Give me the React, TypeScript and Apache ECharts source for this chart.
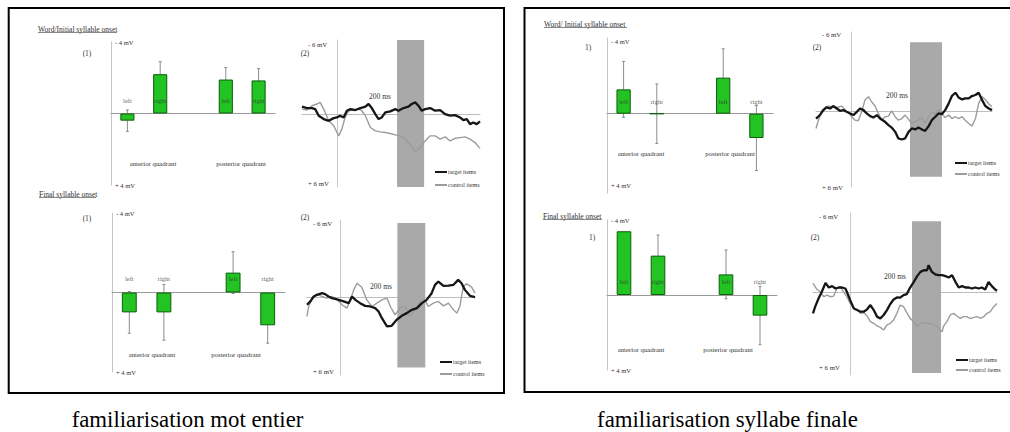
import React, { useEffect, useRef } from "react";
import * as echarts from "echarts";

const FONT = "Liberation Serif";

// ---------------- data ----------------
const BAR_CATEGORIES = ["anterior left", "anterior right", "", "posterior left", "posterior right"];
const BAR_SIDES = ["left", "right", "", "left", "right"];
const QUADRANTS = ["anterior quadrant", "posterior quadrant"];
const BAR_TICK_VALUES = [-4, 4];
const BAR_TICK_LABELS = ["- 4 mV", "+ 4 mV"];
const WAVE_TICK_VALUES = [-6, 6];
const WAVE_TICK_LABELS = ["- 6 mV", "+ 6 mV"];
const LEGEND_NAMES = ["target items", "control items"];
const WINDOW_LABEL = "200 ms";
const PANEL_TITLES = ["Word/Initial syllable onset", "Final syllable onset", "Word/ Initial syllable onset", "Final syllable onset"];
const CAPTIONS = ["familiarisation mot entier", "familiarisation syllabe finale"];
const BAR_LABEL_LEVEL = -0.7;

// mean amplitude (mV, negative up) and error, per category slot
const MOT_INITIAL_MEANS = [0.4, -2.2, null, -1.9, -1.85];
const MOT_INITIAL_ERRORS = [0.6, 0.7, null, 0.67, 0.67];
const MOT_FINAL_MEANS = [1.0, 1.0, null, -1.0, 1.65];
const MOT_FINAL_ERRORS = [1.05, 1.4, null, 1.05, 0.9];
const SYL_INITIAL_MEANS = [-1.35, 0, null, -2.0, 1.35];
const SYL_INITIAL_ERRORS = [1.55, 1.65, null, 1.6, 1.8];
const SYL_FINAL_MEANS = [-3.4, -2.1, null, -1.1, 1.1];
const SYL_FINAL_ERRORS = [0, 1.1, null, 1.3, 1.55];

// waveforms: [ms, mV]
const MOT_INITIAL_TARGET = [[-100,-0.64],[-86,-0.52],[-72,-0.52],[-63,-0.43],[-53,0.14],[-39,0.43],[-25,0.58],[-11,0.35],[-2,0.29],[7,0.14],[17,0.29],[26,-0.29],[36,-0.43],[50,-0.35],[64,-0.52],[78,-0.64],[87,-0.87],[96,-0.52],[106,0],[115,0.43],[124,0.29],[134,-0.14],[148,-0.23],[162,-0.43],[171,-0.29],[185,-0.52],[199,-0.64],[208,-0.87],[218,-1.01],[227,-0.72],[236,-0.29],[246,-0.43],[260,-0.52],[274,-0.29],[288,-0.35],[302,0],[316,0.14],[330,0.09],[344,0.29],[353,0.52],[363,0.43],[372,0.87],[381,0.72],[391,0.87],[400,0.64]];
const MOT_INITIAL_CONTROL = [[-100,-0.43],[-86,-0.35],[-72,-0.72],[-58,-0.87],[-49,-1.01],[-39,-0.43],[-25,0.58],[-11,1.01],[3,1.88],[12,1.3],[21,0.29],[31,-0.29],[45,-0.35],[59,-0.43],[68,-0.29],[78,0.14],[92,1.16],[106,1.45],[120,1.54],[134,1.59],[148,1.68],[162,1.8],[176,1.88],[190,2.17],[204,2.61],[218,3.25],[232,2.9],[246,2.32],[260,1.88],[274,1.88],[288,2.17],[302,1.97],[316,2.32],[330,2.09],[344,2.03],[358,1.97],[372,2.17],[386,2.46],[400,2.96]];
const MOT_FINAL_TARGET = [[-100,0.59],[-90,0.32],[-80,-0.08],[-70,-0.22],[-55,-0.35],[-46,-0.27],[-36,-0.08],[-26,0.05],[-16,0.11],[-6,0.19],[9,0.32],[24,0.46],[34,-0.08],[44,0.19],[58,0.46],[73,0.68],[88,0.73],[103,0.86],[113,1.14],[123,1.68],[138,2.35],[152,2.3],[167,1.81],[182,1.49],[197,1.27],[212,1.0],[227,0.86],[242,0.46],[256,0.19],[271,-0.35],[281,-1.03],[291,-1.3],[306,-0.95],[321,-0.97],[336,-1.03],[350,-1.43],[360,-1.16],[370,-0.62],[385,-0.14],[400,-0.03]];
const MOT_FINAL_CONTROL = [[-100,1.54],[-95,0.73],[-85,0.05],[-70,-0.3],[-55,-0.08],[-41,0.05],[-26,-0.08],[-11,0.14],[4,0.59],[19,0.86],[29,0.19],[39,-0.62],[49,-1.16],[63,-0.84],[78,0.19],[93,0.73],[108,0.46],[123,0.19],[138,0.05],[148,0.73],[162,1.41],[177,0.86],[192,0.73],[207,1.54],[222,1.0],[237,0.32],[251,0.19],[261,0.73],[276,0.46],[291,0.32],[306,0.68],[321,0.46],[336,1.0],[346,1.27],[355,0.73],[365,-0.89],[375,-1.11],[390,-0.84],[400,-0.35]];
const SYL_INITIAL_TARGET = [[-100,0.61],[-89,0.34],[-79,-0.05],[-70,-0.26],[-60,-0.18],[-51,-0.37],[-41,-0.18],[-32,0],[-22,-0.05],[-13,0.08],[-3,0.21],[6,0.34],[16,0.08],[25,-0.18],[35,-0.05],[44,0.21],[54,0.42],[63,0.53],[73,0.34],[82,0.61],[96,0.87],[106,1.13],[115,1.32],[125,1.66],[134,2.18],[144,2.26],[153,2.18],[163,1.66],[172,1.39],[182,1.47],[191,1.32],[201,1.47],[210,1.58],[220,1.21],[229,0.74],[239,0.47],[248,0.21],[258,0.26],[267,-0.05],[277,-0.58],[286,-1.16],[296,-1.42],[305,-1.05],[315,-0.89],[324,-0.97],[334,-0.97],[343,-1.16],[353,-1.24],[362,-1.42],[372,-0.84],[381,-0.37],[391,-0.18],[400,-0.05]];
const SYL_INITIAL_CONTROL = [[-100,1.39],[-93,0.74],[-84,0],[-74,-0.26],[-65,-0.37],[-55,-0.32],[-41,-0.26],[-27,-0.37],[-17,-0.05],[-8,0.16],[2,0.47],[11,0.74],[20,0.79],[30,0.08],[39,-0.84],[49,-1.11],[58,-0.71],[68,-0.37],[77,0.21],[87,0.74],[96,0.47],[106,0.42],[115,0],[125,0.47],[134,0.74],[144,0.61],[153,0.34],[163,0.68],[172,1.0],[182,0.87],[191,0.74],[201,0.53],[210,1.0],[220,0.47],[229,0.08],[239,0.26],[248,-0.11],[258,0.26],[267,0.53],[277,0.34],[286,0.61],[296,0.47],[305,0.61],[315,0.47],[324,0.74],[334,1.0],[343,1.21],[353,0.61],[362,-0.58],[372,-1.11],[381,-0.89],[391,-0.53],[400,-0.32]];
const SYL_FINAL_TARGET = [[-100,1.71],[-94,1.18],[-85,0.53],[-76,0],[-66,-0.71],[-57,-0.34],[-48,-0.45],[-39,-0.26],[-30,-0.34],[-21,-0.34],[-12,-0.26],[-8,0],[1,0.66],[11,1.32],[20,1.45],[29,1.58],[38,1.58],[47,1.39],[56,1.05],[65,1.45],[74,1.97],[83,2.11],[92,1.84],[101,1.45],[110,0.97],[119,0.61],[128,0.45],[137,0.47],[146,0.26],[155,0.18],[164,-0.34],[174,-0.79],[183,-1.24],[192,-1.58],[201,-1.71],[210,-1.71],[214,-2.11],[223,-1.58],[232,-1.39],[241,-1.32],[251,-1.32],[260,-1.24],[269,-1.13],[278,-1.32],[287,-0.79],[296,-0.34],[305,-0.45],[314,-0.34],[323,-0.34],[332,-0.26],[341,-0.34],[350,-0.26],[359,-0.34],[368,-0.18],[377,-0.79],[386,-0.45],[395,-0.18],[400,-0.08]];
const SYL_FINAL_CONTROL = [[-100,-0.66],[-89,-0.18],[-80,0],[-71,0.39],[-62,0.26],[-53,0.39],[-44,0.34],[-35,-0.26],[-26,-0.39],[-17,0],[-8,0.39],[1,0.92],[11,1.32],[20,1.45],[29,1.71],[38,1.66],[47,1.9],[56,2.37],[65,2.5],[74,2.71],[83,2.82],[92,3.03],[101,2.63],[110,2.5],[119,2.24],[128,1.71],[137,1.05],[146,1.18],[155,1.66],[164,2.11],[174,2.37],[183,2.71],[192,2.5],[201,2.45],[210,2.55],[219,2.5],[228,2.63],[237,2.76],[246,3.03],[251,3.16],[255,2.71],[264,2.37],[273,1.84],[282,1.71],[291,1.92],[300,2.11],[309,1.97],[318,1.97],[328,2.13],[337,2.03],[346,1.97],[355,2.11],[364,1.97],[373,1.71],[382,1.58],[391,1.18],[400,0.92]];

// analysis windows (ms)
const MOT_INITIAL_WINDOW = [167, 243];
const MOT_FINAL_WINDOW = [169, 252];
const SYL_INITIAL_WINDOW = [167, 258];
const SYL_FINAL_WINDOW = [169, 248];
const TIME_RANGE = [-100, 400];

// ---------------- layout ----------------
const BAR_PLOTS = [
  { means: MOT_INITIAL_MEANS, errors: MOT_INITIAL_ERRORS, grid: { left: 111, top: 42, width: 164, height: 143 }, min: -4, max: 4, tag: "(1)", tagAt: [87, 53], quadAt: [[153, 163], [241, 163]] },
  { means: MOT_FINAL_MEANS, errors: MOT_FINAL_ERRORS, grid: { left: 112, top: 213, width: 173, height: 159 }, min: -4, max: 4, tag: "(1)", tagAt: [87, 218], quadAt: [[152, 354], [236, 354]] },
  { means: SYL_INITIAL_MEANS, errors: SYL_INITIAL_ERRORS, grid: { left: 607, top: 38, width: 166, height: 155 }, min: -4.2, max: 4.4, tag: "1)", tagAt: [588, 47], quadAt: [[641, 153], [730, 153]] },
  { means: SYL_FINAL_MEANS, errors: SYL_FINAL_ERRORS, grid: { left: 607, top: 220, width: 170, height: 150 }, min: -4, max: 4, tag: "1)", tagAt: [592, 237], quadAt: [[641, 349], [728, 349]] },
];

const WAVE_PLOTS = [
  { target: MOT_INITIAL_TARGET, control: MOT_INITIAL_CONTROL, window: MOT_INITIAL_WINDOW, shadeY: [-6.4, 6.3], grid: { left: 302, top: 40, width: 178, height: 147 }, min: -6.4, max: 6.3, tagAt: [305, 53], msAt: [380, 96], legendAt: [435, 169], legendGap: 7 },
  { target: MOT_FINAL_TARGET, control: MOT_FINAL_CONTROL, window: MOT_FINAL_WINDOW, shadeY: [-6.05, 5.7], grid: { left: 307, top: 220, width: 168, height: 155 }, min: -6.3, max: 6.3, tagAt: [305, 217], msAt: [381, 286], legendAt: [440, 359], legendGap: 6 },
  { target: SYL_INITIAL_TARGET, control: SYL_INITIAL_CONTROL, window: SYL_INITIAL_WINDOW, shadeY: [-5.4, 5.2], grid: { left: 816, top: 32, width: 176, height: 155 }, min: -6.2, max: 6.0, tagAt: [817, 47], msAt: [897, 95], legendAt: [955, 160], legendGap: 5 },
  { target: SYL_FINAL_TARGET, control: SYL_FINAL_CONTROL, window: SYL_FINAL_WINDOW, shadeY: [-5.6, 6.45], grid: { left: 813, top: 213, width: 184, height: 162 }, min: -6.25, max: 6.6, tagAt: [815, 237], msAt: [895, 276], legendAt: [956, 357], legendGap: 4 },
];

const TITLE_LAYOUT = [
  { x: 38, y: 29, w: 79 },
  { x: 39, y: 194, w: 57 },
  { x: 544, y: 24, w: 83 },
  { x: 543, y: 216, w: 59 },
];
const CAPTION_LAYOUT = [
  { x: 187.5, y: 419 },
  { x: 727.5, y: 419 },
];

const TEXT_COLOR = "#333";

function buildOption() {
  const grid: any[] = [];
  const xAxis: any[] = [];
  const yAxis: any[] = [];
  const series: any[] = [];
  const legend: any[] = [];
  const graphic: any[] = [];

  BAR_PLOTS.forEach((p, i) => {
    grid.push({ ...p.grid, containLabel: false });
    xAxis.push({
      type: "category",
      gridIndex: i,
      data: BAR_CATEGORIES,
      axisLine: { onZero: true, lineStyle: { color: "#9a9a9a", width: 1 } },
      axisTick: { show: false },
      axisLabel: { show: false },
      splitLine: { show: false },
    });
    yAxis.push({
      type: "value",
      gridIndex: i,
      inverse: true,
      min: p.min,
      max: p.max,
      axisLine: { show: true, onZero: false, lineStyle: { color: "#c4c4c4", width: 1 } },
      axisTick: { show: false },
      splitLine: { show: false },
      axisLabel: {
        inside: true,
        margin: 4,
        customValues: BAR_TICK_VALUES,
        formatter: (v: number) => BAR_TICK_LABELS[BAR_TICK_VALUES.indexOf(v)] ?? "",
        fontSize: 6.5,
        fontFamily: FONT,
        color: TEXT_COLOR,
      },
    });
    series.push({
      type: "bar",
      xAxisIndex: i,
      yAxisIndex: i,
      data: p.means.map((v) => (v == null ? "-" : v)),
      barWidth: "43%",
      itemStyle: { color: "#22c322", borderColor: "#0b5f0b", borderWidth: 1 },
      z: 3,
      silent: true,
    });
    const errData = p.means
      .map((m, k) => (m == null || !p.errors[k] ? null : [k, m - (p.errors[k] as number), m + (p.errors[k] as number)]))
      .filter((d) => d != null);
    series.push({
      type: "custom",
      xAxisIndex: i,
      yAxisIndex: i,
      data: errData,
      encode: { x: 0, y: [1, 2] },
      z: 2,
      silent: true,
      renderItem: (params: any, api: any) => {
        const x = api.value(0);
        const a = api.coord([x, api.value(1)]);
        const b = api.coord([x, api.value(2)]);
        const st = { stroke: "#8c8c8c", lineWidth: 1 };
        return {
          type: "group",
          children: [
            { type: "line", shape: { x1: a[0], y1: a[1], x2: b[0], y2: b[1] }, style: st },
            { type: "line", shape: { x1: a[0] - 1.5, y1: a[1], x2: a[0] + 1.5, y2: a[1] }, style: st },
            { type: "line", shape: { x1: b[0] - 1.5, y1: b[1], x2: b[0] + 1.5, y2: b[1] }, style: st },
          ],
        };
      },
    });
    series.push({
      type: "scatter",
      xAxisIndex: i,
      yAxisIndex: i,
      symbolSize: 0,
      silent: true,
      z: 4,
      data: BAR_SIDES.map((s, k) => (s ? [k, BAR_LABEL_LEVEL] : null)).filter((d) => d != null),
      label: {
        show: true,
        position: "inside",
        formatter: (q: any) => BAR_SIDES[q.value[0]],
        fontSize: 6.5,
        fontFamily: FONT,
        color: TEXT_COLOR,
      },
    });
    graphic.push({
      type: "text",
      x: p.tagAt[0],
      y: p.tagAt[1],
      style: { text: p.tag, fontSize: 7.5, fontFamily: FONT, fill: TEXT_COLOR, align: "center", verticalAlign: "middle" },
    });
    QUADRANTS.forEach((q, k) => {
      graphic.push({
        type: "text",
        x: p.quadAt[k][0],
        y: p.quadAt[k][1],
        style: { text: q, fontSize: 6.8, fontFamily: FONT, fill: TEXT_COLOR, align: "center", verticalAlign: "middle" },
      });
    });
  });

  WAVE_PLOTS.forEach((p, j) => {
    const i = BAR_PLOTS.length + j;
    grid.push({ ...p.grid, containLabel: false });
    xAxis.push({
      type: "value",
      gridIndex: i,
      min: TIME_RANGE[0],
      max: TIME_RANGE[1],
      axisLine: { show: true, onZero: true, lineStyle: { color: "#bdbdbd", width: 1 } },
      axisTick: { show: false },
      axisLabel: { show: false },
      splitLine: { show: false },
    });
    yAxis.push({
      type: "value",
      gridIndex: i,
      inverse: true,
      min: p.min,
      max: p.max,
      axisLine: { show: true, onZero: true, lineStyle: { color: "#c8c8c8", width: 1 } },
      axisTick: { show: false },
      splitLine: { show: false },
      axisLabel: {
        inside: true,
        margin: 6,
        customValues: WAVE_TICK_VALUES,
        formatter: (v: number) => WAVE_TICK_LABELS[WAVE_TICK_VALUES.indexOf(v)] ?? "",
        fontSize: 6.8,
        fontFamily: FONT,
        color: TEXT_COLOR,
      },
    });
    series.push({
      type: "line",
      xAxisIndex: i,
      yAxisIndex: i,
      data: [],
      z: 1,
      silent: true,
      clip: false,
      markArea: {
        silent: true,
        itemStyle: { color: "#a9a9a9", opacity: 1 },
        label: { show: false },
        data: [[{ xAxis: p.window[0], yAxis: p.shadeY[0] }, { xAxis: p.window[1], yAxis: p.shadeY[1] }]],
      },
    });
    series.push({
      type: "line",
      name: LEGEND_NAMES[1],
      xAxisIndex: i,
      yAxisIndex: i,
      data: p.control,
      showSymbol: false,
      symbol: "none",
      lineStyle: { color: "#9c9c9c", width: 1.4 },
      itemStyle: { color: "#9c9c9c" },
      z: 2,
      silent: true,
    });
    series.push({
      type: "line",
      name: LEGEND_NAMES[0],
      xAxisIndex: i,
      yAxisIndex: i,
      data: p.target,
      showSymbol: false,
      symbol: "none",
      lineStyle: { color: "#161616", width: 2.3 },
      itemStyle: { color: "#161616" },
      z: 3,
      silent: true,
    });
    legend.push({
      orient: "vertical",
      left: p.legendAt[0],
      top: p.legendAt[1],
      padding: 0,
      itemGap: p.legendGap,
      itemWidth: 12,
      itemHeight: 2,
      icon: "rect",
      selectedMode: false,
      data: LEGEND_NAMES,
      textStyle: { fontSize: 6, fontFamily: FONT, color: TEXT_COLOR, padding: [0, 0, 0, -4] },
    });
    graphic.push({
      type: "text",
      x: p.tagAt[0],
      y: p.tagAt[1],
      style: { text: "(2)", fontSize: 7.5, fontFamily: FONT, fill: TEXT_COLOR, align: "center", verticalAlign: "middle" },
    });
    graphic.push({
      type: "text",
      x: p.msAt[0],
      y: p.msAt[1],
      style: { text: WINDOW_LABEL, fontSize: 7.5, fontFamily: FONT, fill: TEXT_COLOR, align: "center", verticalAlign: "middle" },
    });
  });

  // frames
  graphic.push({ type: "rect", shape: { x: 8.7, y: 8, width: 495.3, height: 385 }, style: { fill: "none", stroke: "#000", lineWidth: 2 }, z: 0 });
  graphic.push({ type: "rect", shape: { x: 524.5, y: 8, width: 500, height: 384 }, style: { fill: "none", stroke: "#000", lineWidth: 2 }, z: 0 });

  // panel titles
  PANEL_TITLES.forEach((t, k) => {
    const L = TITLE_LAYOUT[k];
    graphic.push({ type: "text", x: L.x, y: L.y, style: { text: t, fontSize: 7.5, fontFamily: FONT, fill: TEXT_COLOR, align: "left", verticalAlign: "middle" } });
    graphic.push({ type: "line", shape: { x1: L.x, y1: L.y + 3.5, x2: L.x + L.w, y2: L.y + 3.5 }, style: { stroke: "#555", lineWidth: 0.7 } });
  });

  // captions
  CAPTIONS.forEach((t, k) => {
    const L = CAPTION_LAYOUT[k];
    graphic.push({ type: "text", x: L.x, y: L.y, style: { text: t, fontSize: 22.8, fontFamily: FONT, fill: "#000", align: "center", verticalAlign: "middle" } });
  });

  return {
    animation: false,
    backgroundColor: "#ffffff",
    grid,
    xAxis,
    yAxis,
    series,
    legend,
    graphic,
  };
}

export default function App() {
  const ref = useRef<HTMLDivElement>(null);
  useEffect(() => {
    if (!ref.current) return;
    const chart = echarts.init(ref.current, null, { renderer: "svg" });
    chart.setOption(buildOption() as any);
    return () => chart.dispose();
  }, []);
  return (
    <div
      ref={ref}
      style={{ position: "absolute", left: 0, top: 0, width: 1010, height: 432, background: "#fff" }}
    />
  );
}
